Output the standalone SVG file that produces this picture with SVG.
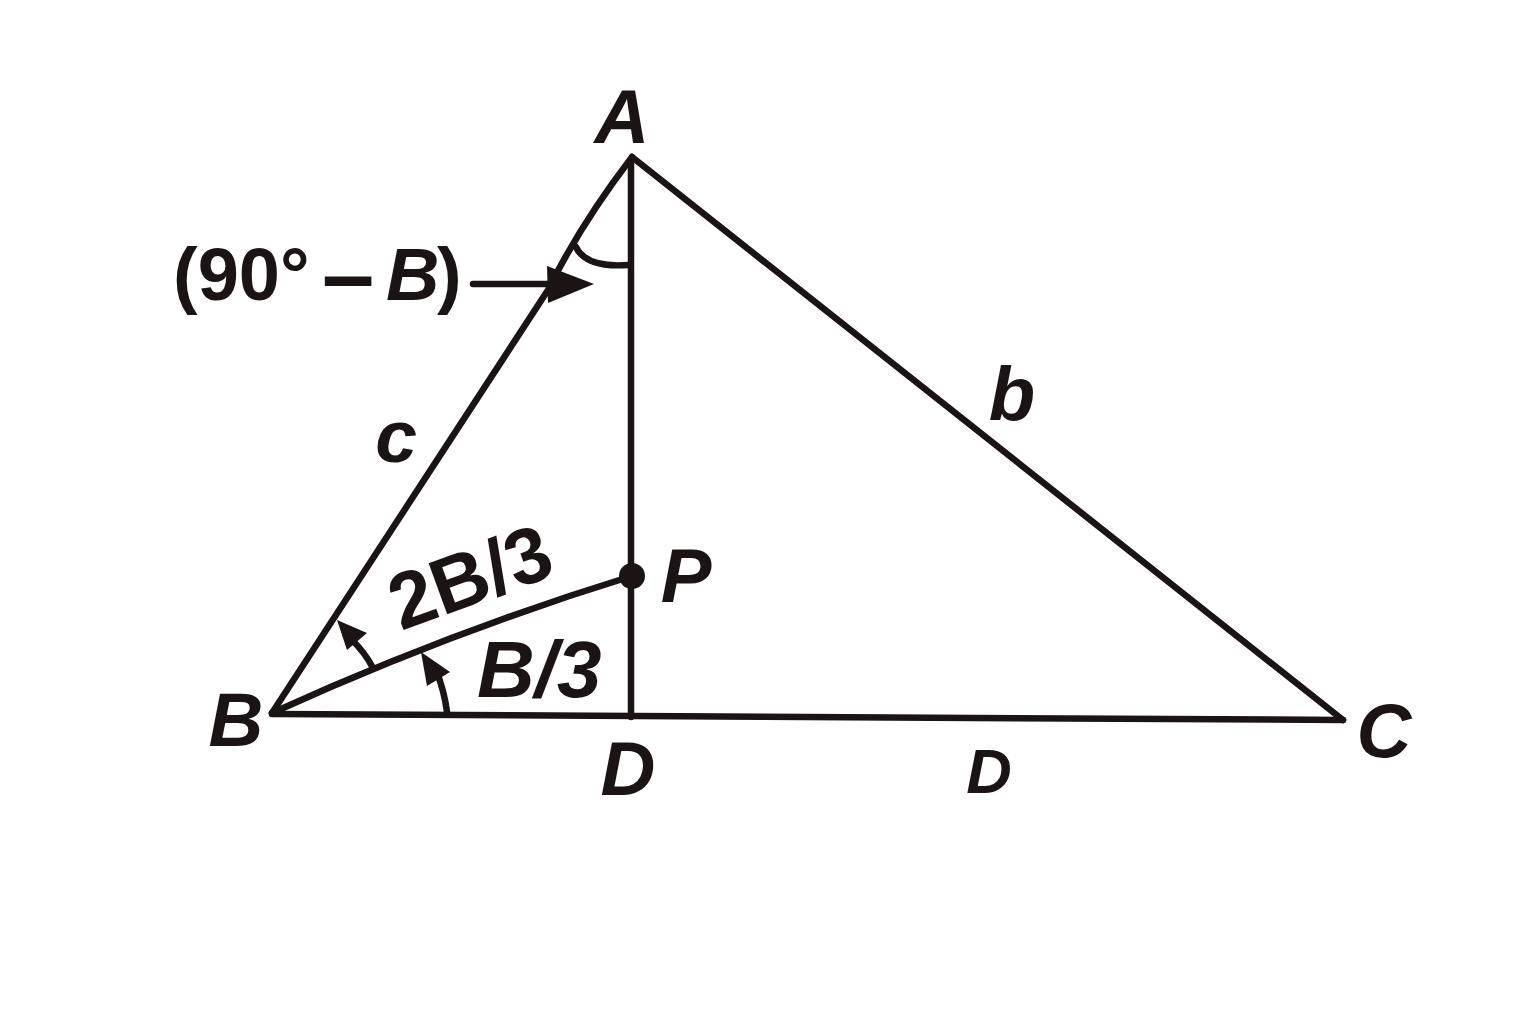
<svg xmlns="http://www.w3.org/2000/svg" width="1536" height="1024" viewBox="0 0 1536 1024">
<style>
.ln{fill:none;stroke:#1a1414;stroke-width:6.5;stroke-linecap:round;stroke-linejoin:round}
.ar{fill:#1a1414;stroke:none}
.lb{font-family:"Liberation Sans",Arial,sans-serif;font-weight:bold;font-style:italic;fill:#1a1414}
.up{font-family:"Liberation Sans",Arial,sans-serif;font-weight:bold;fill:#1a1414}
</style>
<rect width="1536" height="1024" fill="#ffffff"/>
<g id="connectors">
<path class="ln" d="M272 713 L548 290 Q580 225 632 157"/>
<path class="ln" d="M632 157 L1343 720"/>
<path class="ln" d="M272 714 L1343 720"/>
<path class="ln" d="M631 164 L631 717"/>
<path class="ln" d="M272 713 Q447 633 632 576"/>
<path class="ln" d="M576 247 Q586 268 628 265"/>
<path class="ln" d="M473 284 L552 284"/>
<polygon class="ar" points="547,266 594,284 548,303"/>
<path class="ln" d="M373 668 A110 110 0 0 0 352 640"/>
<polygon class="ar" points="337,620 367,633 347,650"/>
<path class="ln" d="M447 712 A172 172 0 0 0 436 670"/>
<polygon class="ar" points="421,652 450,672 427,686"/>
</g>
<g id="node-A"><text class="lb" x="622" y="143" font-size="76" text-anchor="middle">A</text></g>
<g id="node-B"><text class="lb" x="236" y="746" font-size="76" text-anchor="middle">B</text></g>
<g id="node-C"><text class="lb" x="1384" y="757" font-size="76" text-anchor="middle">C</text></g>
<g id="node-D"><text class="lb" x="628" y="795" font-size="76" text-anchor="middle">D</text></g>
<g id="node-P"><circle cx="632" cy="576" r="13" class="ar"/><text class="lb" x="686" y="602" font-size="76" text-anchor="middle">P</text></g>
<g id="label-b"><text class="lb" x="1012" y="420" font-size="76" text-anchor="middle">b</text></g>
<g id="label-c"><text class="lb" x="396" y="462" font-size="75" text-anchor="middle">c</text></g>
<g id="label-D2"><text class="lb" x="989" y="793" font-size="63" text-anchor="middle">D</text></g>
<g id="label-90B"><text class="up" x="173" y="300" font-size="74">(90°<tspan x="322" dy="7" font-size="94">–</tspan><tspan x="386" dy="-7" font-style="italic">B</tspan><tspan x="437">)</tspan></text></g>
<g id="label-B3"><text class="lb" x="477" y="697" font-size="80">B/3</text></g>
<g id="label-2B3"><text class="up" x="0" y="0" font-size="79" transform="translate(401 631) rotate(-20)">2B/3</text></g>
</svg>
